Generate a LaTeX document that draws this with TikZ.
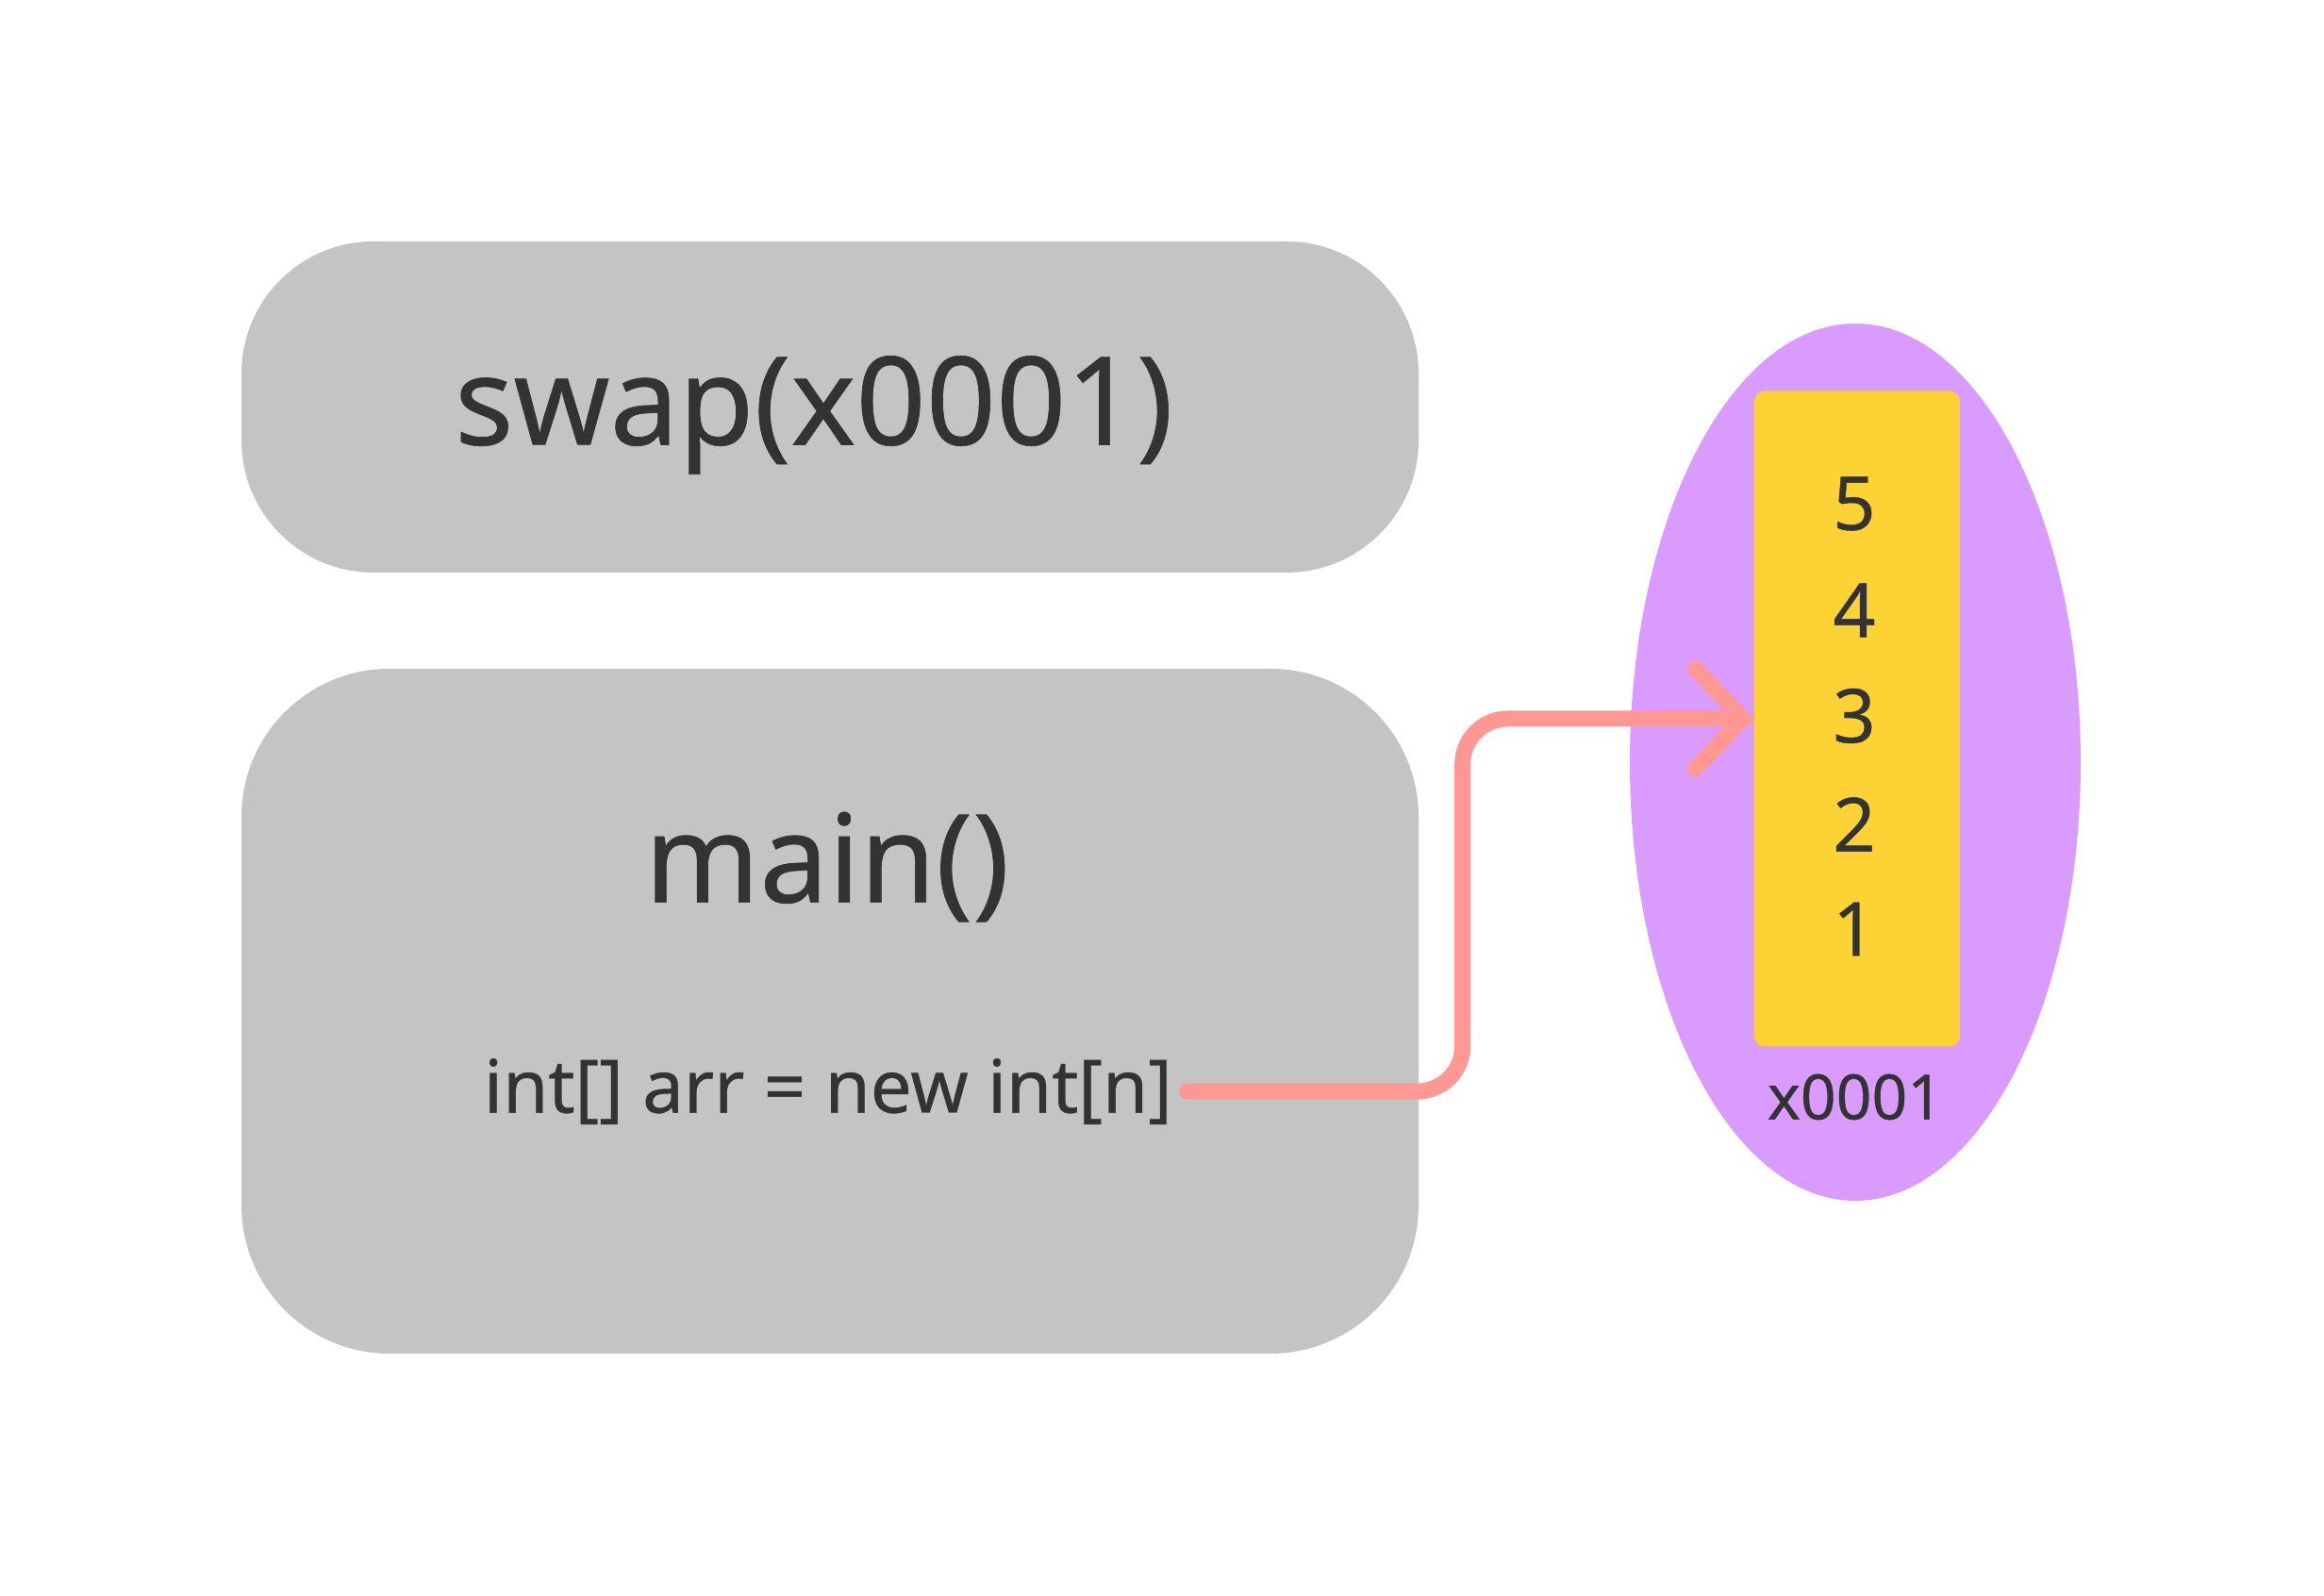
\documentclass[tikz,border=0pt]{standalone}
\usepackage{fontspec}
\setmainfont{Noto Sans}[FakeBold=0.5]
\usetikzlibrary{arrows.meta,shapes.geometric}
\definecolor{framegray}{HTML}{C4C4C4}
\definecolor{heappurple}{HTML}{D99BFE}
\definecolor{cellyellow}{HTML}{FDD235}
\definecolor{refred}{HTML}{FF9892}
\definecolor{txtgray}{HTML}{333333}
\begin{document}
\begin{tikzpicture}[
    frame/.style={fill=framegray, rounded corners=#1, minimum width=12.48cm, inner sep=0pt},
    bigtxt/.style={text=txtgray, font=\fontsize{37}{44}\selectfont},
    codetxt/.style={text=txtgray, font=\fontsize{22.2}{26}\selectfont, inner sep=0pt},
    celltxt/.style={text=txtgray, font=\fontsize{22.5}{26}\selectfont},
    addrtxt/.style={text=txtgray, font=\fontsize{18.8}{22}\selectfont},
    ref/.style={draw=refred, line width=1.7mm, line cap=round, rounded corners=4.8mm,
        -{Straight Barb[length=5.0mm, width=10.6mm, line cap=round]}}
]
    \useasboundingbox (0,0) rectangle (24.64,16.92);
    % stack frames
    \node[frame=1.4cm, minimum height=3.51cm] (swapframe) at (8.80,12.605) {};
    \node[bigtxt] (swaptxt) at (8.63,12.52) {swap(x0001)};
    \node[frame=1.57cm, minimum height=7.26cm] (mainframe) at (8.80,6.20) {};
    \node[bigtxt] (maintxt) at (8.77,7.73) {main()};
    \node[codetxt] (decl) at (8.78,5.35) {int[] arr = new int[n]};
    % heap
    \node[ellipse, fill=heappurple, minimum width=4.78cm, minimum height=9.30cm, inner sep=0pt] (heap) at (19.67,8.84) {};
    \node[fill=cellyellow, rounded corners=1.1mm, minimum width=2.18cm, minimum height=6.95cm, inner sep=0pt] (cells) at (19.69,9.30) {};
    \foreach \v/\y in {5/11.58,4/10.45,3/9.33,2/8.18,1/7.07}
        \node[celltxt] (val\v) at (19.66,\y) {\v};
    \node[addrtxt] (addr) at (19.67,5.29) {x0001};
    % reference
    \draw[ref] ([xshift=1.5mm]decl.east) -- ++(2.92,0) |- (cells.west);
\end{tikzpicture}
\end{document}
